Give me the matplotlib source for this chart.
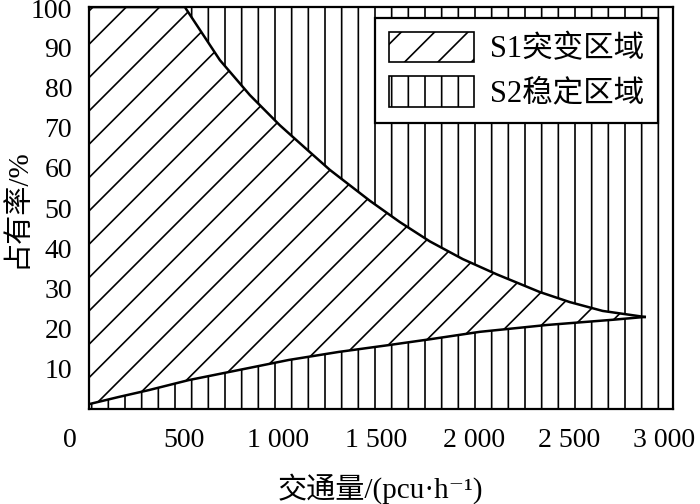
import matplotlib
matplotlib.use("Agg")
import matplotlib.pyplot as plt
import matplotlib.transforms as mtransforms

# upper boundary of S1 (occupancy threshold curve)
upper_x = [0, 493, 673, 827, 981, 1110, 1238, 1444, 1598, 1752, 1921, 2096,
           2317, 2471, 2640, 2856]
upper_y = [100, 100, 86.8, 78.1, 70.6, 65.0, 59.5, 51.8, 46.5, 41.7, 37.3, 33.5,
           29.1, 26.6, 24.4, 22.9]
# lower boundary of S1
lower_x = [0, 154, 308, 514, 771, 1027, 1284, 1541, 1760, 2009, 2353, 2692, 2856]
lower_y = [1.2, 3.0, 4.7, 7.2, 9.7, 12.2, 14.2, 15.9, 17.4, 19.2, 20.9, 22.2, 22.9]

x_ticks = [0, 500, 1000, 1500, 2000, 2500, 3000]
x_ticklabels = ["0", "500", "1 000", "1 500", "2 000", "2 500", "3 000"]
y_ticks = [10, 20, 30, 40, 50, 60, 70, 80, 90, 100]
y_ticklabels = ["10", "20", "30", "40", "50", "60", "70", "80", "90", "100"]

labels = ["S1突变区域", "S2稳定区域"]

plt.rcParams["font.family"] = ["Liberation Serif", "Noto Sans CJK SC", "DejaVu Serif"]
plt.rcParams["hatch.linewidth"] = 1.2
plt.rcParams["hatch.color"] = "black"

fig = plt.figure(figsize=(7, 5.04), dpi=100)
ax = fig.add_axes([0.127, 0.1885, 0.834, 0.7975])

# S2: whole plane, vertical hatch
s2 = ax.fill_between([0, 3000], 0, 100, facecolor="white", edgecolor="black",
                     hatch="|", linewidth=0, label=labels[1])
# S1: region between the two boundaries, diagonal hatch
poly_x = upper_x + lower_x[::-1]
poly_y = upper_y + lower_y[::-1]
s1 = ax.fill(poly_x, poly_y, facecolor="white", edgecolor="black",
             hatch="/", linewidth=0, label=labels[0])[0]
ax.plot(upper_x, upper_y, color="black", lw=1.8)
ax.plot(lower_x, lower_y, color="black", lw=1.8)

ax.set_xlim(0, 3000)
ax.set_ylim(0, 100)
ax.set_xticks(x_ticks)
ax.set_xticklabels(x_ticklabels)
ax.set_yticks(y_ticks)
ax.set_yticklabels(y_ticklabels)
ax.tick_params(length=0, labelsize=20)
ax.tick_params(axis="x", pad=14)
ax.tick_params(axis="y", pad=12)
# keep the top label inside the figure
ax.get_yticklabels()[-1].set_verticalalignment("top")
top_off = mtransforms.ScaledTranslation(0, 8 / 100, fig.dpi_scale_trans)
lab_top = ax.get_yticklabels()[-1]
lab_top.set_transform(lab_top.get_transform() + top_off)

# nudge x labels: origin label sits left of the corner, others slightly left
shifts = [-19, -2, -5, -5, -4, -6, -9]
for lab, dx in zip(ax.get_xticklabels(), shifts):
    off = mtransforms.ScaledTranslation(dx / 100, 0, fig.dpi_scale_trans)
    lab.set_transform(lab.get_transform() + off)

for sp in ax.spines.values():
    sp.set_linewidth(1.6)

ax.set_xlabel("交通量/(pcu·h⁻¹)", fontsize=21, labelpad=14)
ax.set_ylabel("占有率/%", fontsize=21, labelpad=0)

leg = ax.legend(handles=[s1, s2], labels=labels, loc="upper right",
                bbox_to_anchor=(0.974, 0.973), borderaxespad=0, fontsize=22,
                handlelength=2.8, handleheight=1.15, labelspacing=0.4,
                handletextpad=0.5, borderpad=0.45, fancybox=False,
                framealpha=1, edgecolor="black")
leg.get_frame().set_linewidth(1.6)
for h in leg.legend_handles:
    h.set_linewidth(1.2)

fig.savefig("out.png", dpi=100)
